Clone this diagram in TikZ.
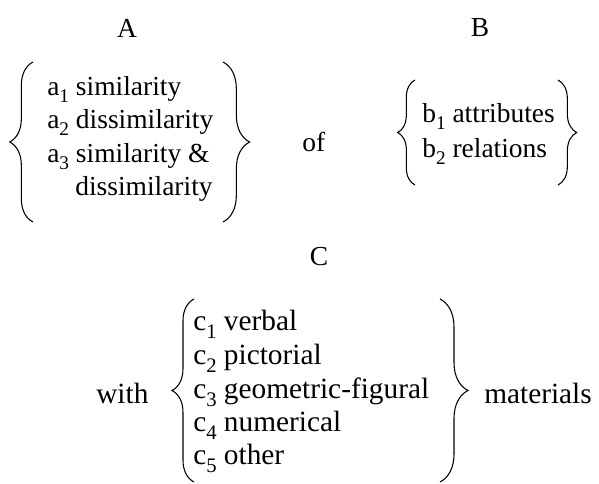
\documentclass[tikz,border=0pt]{standalone}
\usepackage{fontspec}
\setmainfont{Liberation Serif}
\usetikzlibrary{decorations.pathreplacing}
\newcommand\sbs[1]{\raisebox{-0.28em}{\fontsize{14.5}{14.5}\selectfont #1}}
\newcommand\sbc[1]{\raisebox{-0.28em}{\fontsize{15.5}{15.5}\selectfont #1}}
\tikzset{
  txt/.style={anchor=base west, inner sep=0pt, font=\fontsize{20.6}{24}\selectfont},
  txtc/.style={anchor=base west, inner sep=0pt, font=\fontsize{22}{26}\selectfont},
  lab/.style={anchor=base, inner sep=0pt, font=\fontsize{20.6}{24}\selectfont},
  brc/.style={draw=black, line width=0.8pt, decorate, decoration={brace, amplitude=#1}}
}
\begin{document}
\begin{tikzpicture}[x=0.75pt, y=-0.75pt]
\useasboundingbox (0,0) rectangle (599,483);
% labels
\node[lab] (labA) at (127,37) {A};
\node[lab] (labB) at (480,36) {B};
\node[lab] (labC) at (319,265) {C};
% A list
\node[txt] (a1) at (47,95) {a\sbs{1} similarity};
\node[txt] (a2) at (47,128) {a\sbs{2} dissimilarity};
\node[txt] (a3) at (47,162) {a\sbs{3} similarity \&};
\node[txt] (a4) at (75,195) {dissimilarity};
\coordinate (aLb) at (33,222); \coordinate (aLt) at (33,62);
\coordinate (aRt) at (223,62); \coordinate (aRb) at (223,222);
\draw[brc=17.5pt] (aLb) -- (aLt);
\draw[brc=20pt] (aRt) -- (aRb);
% of
\node[txt] (of) at (302,151) {of};
% B list
\node[txt] (b1) at (422,122) {b\sbs{1} attributes};
\node[txt] (b2) at (422,157) {b\sbs{2} relations};
\coordinate (bLb) at (415,185); \coordinate (bLt) at (415,80);
\coordinate (bRt) at (558,80); \coordinate (bRb) at (558,185);
\draw[brc=13pt] (bLb) -- (bLt);
\draw[brc=14pt] (bRt) -- (bRb);
% C row
\node[txtc] (with) at (96,403) {with};
\node[txtc] (c1) at (193,330) {c\sbc{1} verbal};
\node[txtc] (c2) at (193,364) {c\sbc{2} pictorial};
\node[txtc] (c3) at (193,398) {c\sbc{3} geometric-figural};
\node[txtc] (c4) at (193,431) {c\sbc{4} numerical};
\node[txtc] (c5) at (193,464) {c\sbc{5} other};
\coordinate (cLb) at (194,482); \coordinate (cLt) at (194,299);
\coordinate (cRt) at (440,299); \coordinate (cRb) at (440,482);
\draw[brc=16.5pt] (cLb) -- (cLt);
\draw[brc=21pt] (cRt) -- (cRb);
\node[txtc] (mat) at (484,403) {materials};
\end{tikzpicture}
\end{document}
